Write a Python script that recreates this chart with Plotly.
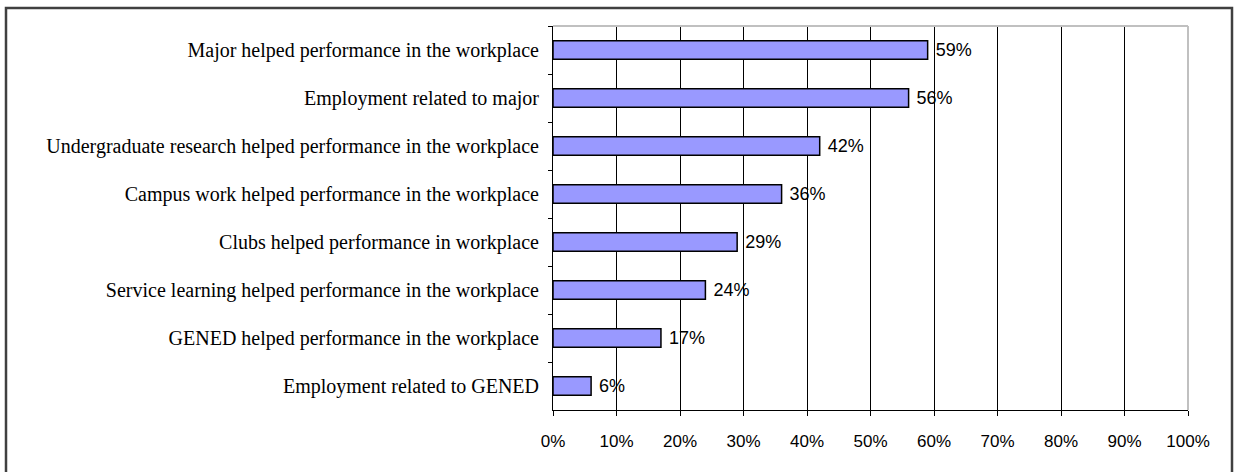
import plotly.graph_objects as go

categories = [
    "Major helped performance in the workplace",
    "Employment related to major",
    "Undergraduate research helped performance in the workplace",
    "Campus work helped performance in the workplace",
    "Clubs helped performance in workplace",
    "Service learning helped performance in the workplace",
    "GENED helped performance in the workplace",
    "Employment related to GENED",
]
values = [0.59, 0.56, 0.42, 0.36, 0.29, 0.24, 0.17, 0.06]
x_ticks = [0, 0.1, 0.2, 0.3, 0.4, 0.5, 0.6, 0.7, 0.8, 0.9, 1.0]
x_tick_labels = ["0%", "10%", "20%", "30%", "40%", "50%", "60%", "70%", "80%", "90%", "100%"]

W, H = 1235, 472
L, R, T, B = 553, 47, 26, 62
pw, ph = W - L - R, H - T - B

fig = go.Figure(
    go.Bar(
        x=values,
        y=categories,
        orientation="h",
        marker=dict(color="#9999FF", line=dict(color="black", width=1.5)),
        width=0.39,
        texttemplate="\u00a0%{x:.0%}",
        textposition="outside",
        textfont=dict(family="Liberation Sans, Arial", size=18, color="black"),
        constraintext="none",
        cliponaxis=False,
        hoverinfo="skip",
    )
)

def px_to_paper_x(px):
    return (px - L) / pw

def px_to_paper_y(py):
    return (H - B - py) / ph

fig.update_layout(
    width=W,
    height=H,
    margin=dict(l=L, r=R, t=T, b=B, pad=0),
    paper_bgcolor="white",
    plot_bgcolor="white",
    showlegend=False,
    xaxis=dict(
        range=[0, 1],
        tickvals=x_ticks,
        ticktext=x_tick_labels,
        showgrid=True,
        gridcolor="#000000",
        gridwidth=1,
        showline=True,
        linecolor="black",
        linewidth=1,
        ticks="outside",
        ticklen=5,
        tickcolor="black",
        tickfont=dict(family="Liberation Sans, Arial", size=17, color="black"),
        ticklabelstandoff=11,
        zeroline=False,
        fixedrange=True,
    ),
    yaxis=dict(
        autorange="reversed",
        type="category",
        showgrid=False,
        showline=True,
        linecolor="black",
        linewidth=1,
        ticks="outside",
        tickson="boundaries",
        ticklen=4,
        tickcolor="black",
        tickfont=dict(family="Liberation Serif, Times New Roman", size=20, color="black"),
        ticklabelstandoff=9,
        zeroline=False,
        fixedrange=True,
    ),
    shapes=[
        dict(type="line", xref="paper", yref="paper", x0=0, x1=1, y0=1, y1=1,
             line=dict(color="#c0c0c0", width=2), layer="above"),
        dict(type="line", xref="paper", yref="paper", x0=1, x1=1, y0=0, y1=1,
             line=dict(color="#c0c0c0", width=2), layer="above"),
        dict(type="rect", xref="paper", yref="paper",
             x0=px_to_paper_x(6), x1=px_to_paper_x(1232),
             y0=px_to_paper_y(490), y1=px_to_paper_y(8),
             line=dict(color="#404040", width=2.5), fillcolor="rgba(0,0,0,0)", layer="above"),
    ],
)

fig.write_html(
    "out.html",
    config={"displayModeBar": False},
    post_script="document.body.style.margin='0';document.body.style.overflow='hidden';",
)
